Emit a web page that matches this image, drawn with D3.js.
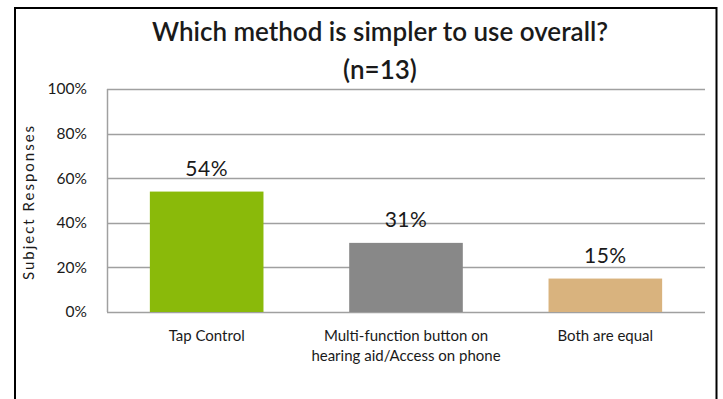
<!DOCTYPE html>
<html>
<head>
<meta charset="utf-8">
<script src="https://cdn.jsdelivr.net/npm/d3@7"></script>
<style>
  html, body { margin: 0; padding: 0; background: #fff; }
  svg { display: block; }
  text { font-family: "Lato", "Open Sans", "Liberation Sans", sans-serif; fill: #1a1a1a; }
</style>
</head>
<body>
<svg id="chart" width="723" height="399"></svg>
<script>
// Survey answers: share of subjects choosing each method
const categories = ["Tap Control", "Multi-function button on|hearing aid/Access on phone", "Both are equal"];
const values = [54, 31, 15];
const barColors = ["#8aba0a", "#888888", "#d9b37e"];
const yTicks = [0, 20, 40, 60, 80, 100];
const titleLines = ["Which method is simpler to use overall?", "(n=13)"];
const yAxisTitle = "Subject Responses";

const svg = d3.select("#chart");

// chart frame
svg.append("path")
  .attr("d", "M15,400 L15,8 L716.5,8 L716.5,400")
  .attr("fill", "none")
  .attr("stroke", "#000")
  .attr("stroke-width", 2);

const plot = { left: 107, right: 705, top: 89, bottom: 312 };

const x = d3.scaleBand()
  .domain(categories)
  .range([plot.left, plot.right])
  .paddingInner(0.43)
  .paddingOuter(0.215);

const y = d3.scaleLinear()
  .domain([0, 100])
  .range([plot.bottom, plot.top]);

// gridlines
svg.append("g")
  .selectAll("line")
  .data(yTicks)
  .join("line")
  .attr("x1", plot.left)
  .attr("x2", plot.right)
  .attr("y1", d => Math.round(y(d)) + 0.5)
  .attr("y2", d => Math.round(y(d)) + 0.5)
  .attr("stroke", "#a0a0a0")
  .attr("stroke-width", 1.5);

// left axis line
svg.append("line")
  .attr("x1", plot.left + 0.5).attr("x2", plot.left + 0.5)
  .attr("y1", y(100)).attr("y2", y(0))
  .attr("stroke", "#a0a0a0")
  .attr("stroke-width", 1.5);

// y tick labels
const yAxis = d3.axisLeft(y)
  .tickValues(yTicks)
  .tickFormat(d => d + "%")
  .tickSize(0)
  .tickPadding(20);
const gy = svg.append("g")
  .attr("transform", `translate(${plot.left},0)`)
  .call(yAxis);
gy.select(".domain").remove();
gy.selectAll("text")
  .style("font-family", "Lato, 'Open Sans', sans-serif")
  .style("font-size", "15.5px")
  .attr("fill", "#1a1a1a");

// bars
svg.append("g")
  .selectAll("rect")
  .data(values)
  .join("rect")
  .attr("x", (d, i) => x(categories[i]))
  .attr("width", x.bandwidth())
  .attr("y", d => y(d))
  .attr("height", d => y(0) - y(d))
  .attr("fill", (d, i) => barColors[i]);

// value labels
svg.append("g")
  .selectAll("text")
  .data(values)
  .join("text")
  .attr("x", (d, i) => x(categories[i]) + x.bandwidth() / 2)
  .attr("y", d => y(d) - 16)
  .attr("text-anchor", "middle")
  .style("font-size", "21px")
  .style("letter-spacing", "0.5px")
  .text(d => d + "%");

// category labels
const catG = svg.append("g");
categories.forEach(c => {
  const lines = c.split("|");
  const t = catG.append("text")
    .attr("x", x(c) + x.bandwidth() / 2)
    .attr("y", 341)
    .attr("text-anchor", "middle")
    .style("font-size", "15px");
  lines.forEach((ln, j) => {
    t.append("tspan")
      .attr("x", x(c) + x.bandwidth() / 2)
      .attr("dy", j === 0 ? 0 : 20)
      .text(ln);
  });
});

// y axis title
svg.append("text")
  .attr("transform", "translate(34,202) rotate(-90)")
  .attr("text-anchor", "middle")
  .style("font-size", "15px")
  .style("letter-spacing", "2px")
  .text(yAxisTitle);

// chart title
titleLines.forEach((ln, i) => {
  svg.append("text")
    .attr("x", 380)
    .attr("y", 41 + i * 38)
    .attr("text-anchor", "middle")
    .style("font-size", "26px")
    .style("font-weight", "600")
    .text(ln);
});
</script>
</body>
</html>
